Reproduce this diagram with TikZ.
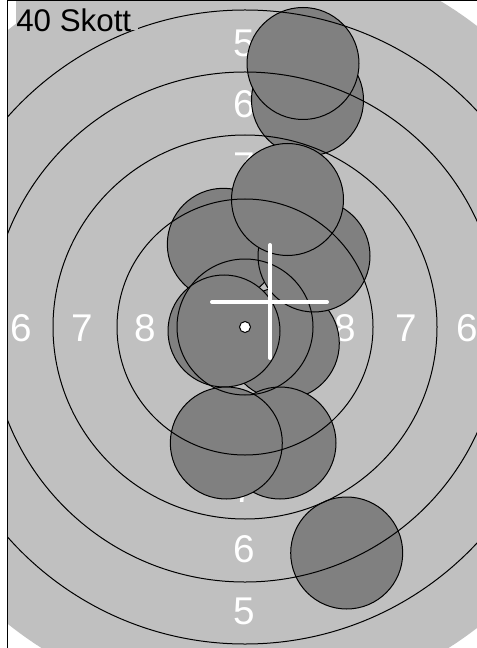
\documentclass[tikz,border=0pt]{standalone}
\usepackage{fontspec}
\setmainfont{Liberation Sans}
\definecolor{bggray}{RGB}{192,192,192}
\definecolor{shotgray}{RGB}{128,128,128}
\tikzset{
  shot/.style={fill=shotgray, draw=black, line width=0.75pt},
  ring/.style={draw=black, line width=0.75pt},
  ringnum/.style={text=white, font=\fontsize{29pt}{29pt}\selectfont, inner sep=0pt, anchor=center},
  cross/.style={draw=white, line width=3pt, line cap=round},
}
\begin{document}
\begin{tikzpicture}[x=0.75pt,y=-0.75pt]
\useasboundingbox (0,0) rectangle (477,648);
\fill[white] (0,0) rectangle (477,648);
\begin{scope}
  \clip (8,1) rectangle (477,648);
  \fill[bggray] (245,327) circle[radius=380*0.75pt];
  % ring numbers
  \node[ringnum] (l6) at (21,328) {6};
  \node[ringnum] (l7) at (82.5,328) {7};
  \node[ringnum] (l8) at (145,328) {8};
  \node[ringnum] (r8) at (345,328) {8};
  \node[ringnum] (r7) at (406.5,328) {7};
  \node[ringnum] (r6) at (467.5,328) {6};
  \node[ringnum] (t5) at (244,43) {5};
  \node[ringnum] (t6) at (244,104) {6};
  \node[ringnum] (t7) at (244,166) {7};
  \node[ringnum] (b7) at (244,489) {7};
  \node[ringnum] (b6) at (244,549) {6};
  \node[ringnum] (b5) at (244,611) {5};
  % shots
  \path[shot] (307.5,100) circle[radius=56*0.75pt];
  \path[shot] (303,63.5) circle[radius=56*0.75pt];
  \path[shot] (223.3,244.3) circle[radius=56*0.75pt];
  \path[shot] (283.3,343.3) circle[radius=56*0.75pt];
  \path[shot] (314,256) circle[radius=56*0.75pt];
  \path[shot] (287.5,199.5) circle[radius=56*0.75pt];
  \path[shot] (224,331) circle[radius=56*0.75pt];
  \path[shot] (280,443) circle[radius=56*0.75pt];
  \path[shot] (226.3,443) circle[radius=56*0.75pt];
  \path[shot] (346.7,553) circle[radius=56*0.75pt];
  % rings
  \foreach \r in {68,128,192,255,317} {
    \path[ring] (245,327) circle[radius=\r*0.75pt];
  }
\end{scope}
% label
\fill[bggray] (16,1.5) rectangle (138,30);
\node[anchor=base west, inner sep=0pt, font=\fontsize{23.5pt}{23.5pt}\selectfont] (title) at (16,32) {40 Skott};
% frame
\draw[line width=1pt] (7.8,648) -- (7.8,0.8) -- (477,0.8);
% crosshair
\coordinate (vt) at (270,245);
\coordinate (vb) at (270,358);
\coordinate (hl) at (212,302);
\coordinate (hr) at (327,302);
\draw[cross] (vt) -- (vb);
\draw[cross] (hl) -- (hr);
% center dot
\node[circle, fill=white, draw=black, line width=0.75pt, minimum size=11*0.75pt, inner sep=0pt] (dot) at (245,327) {};
\end{tikzpicture}
\end{document}
